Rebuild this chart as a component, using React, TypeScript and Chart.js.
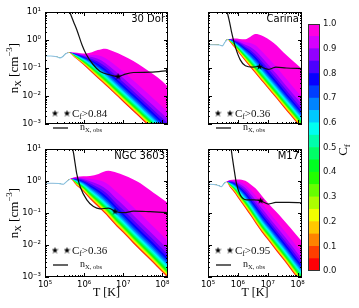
import { useEffect, useRef } from "react";
import { Chart, registerables } from "chart.js";

Chart.register(...registerables);

const FIG_W = 359;
const FIG_H = 308;

// ---------- colour bar: covering-factor contour levels ----------
const CF_LEVELS = [0, 0.05, 0.1, 0.15, 0.2, 0.25, 0.3, 0.35, 0.4, 0.45, 0.5, 0.55, 0.6, 0.65, 0.7, 0.75, 0.8, 0.85, 0.9, 0.95, 1.0];
const CF_COLORS = [
  "#ff0007", "#ff3e00", "#ff8300", "#ffc800", "#f1ff00", "#acff00", "#67ff00", "#22ff00", "#00ff22", "#00ff67",
  "#00ffab", "#00fff0", "#00c9ff", "#0084ff", "#003eff", "#0700ff", "#4c00ff", "#9200ff", "#d700ff", "#ff00e2",
];
const CB_TICKS = [0, 0.1, 0.2, 0.3, 0.4, 0.5, 0.6, 0.7, 0.8, 0.9, 1.0];
const CB_TICK_LABELS = ["0.0", "0.1", "0.2", "0.3", "0.4", "0.5", "0.6", "0.7", "0.8", "0.9", "1.0"];

// ---------- axes ----------
const X_MIN = 1e5;
const X_MAX = 1.4e8;
const Y_MIN = 1e-3;
const Y_MAX = 10;
const X_TICKS = [1e5, 1e6, 1e7, 1e8];
const X_TICK_LABELS = ["10⁵", "10⁶", "10⁷", "10⁸"];
const Y_TICKS = [1e-3, 1e-2, 1e-1, 1, 10];
const Y_TICK_LABELS = ["10⁻³", "10⁻²", "10⁻¹", "10⁰", "10¹"];
const MINOR_MULT = [1, 2, 3, 4, 5, 6, 7, 8, 9];

// shape exponent of the C_f contour family between its C_f=0 and C_f=1 edges
const P_SHAPE = 0.9;

// ---------- 30 Dor (all values log10 T[K], log10 n[cm^-3]) ----------
const DOR_LEAD_LOGT = [5.0, 5.15, 5.3, 5.38, 5.45, 5.52, 5.6];
const DOR_LEAD_LOGN = [-0.57, -0.57, -0.6, -0.64, -0.6, -0.5, -0.45];
const DOR_BAND_LOGT = [5.6, 5.75, 5.9, 6.05, 6.2, 6.35, 6.54, 6.74, 7.0, 7.26, 7.51, 7.77, 8.0, 8.16];
const DOR_LOWER_LOGN = [-0.45, -0.62, -0.79, -0.97, -1.17, -1.37, -1.61, -1.87, -2.21, -2.55, -2.88, -3.22, -3.52, -3.73];
const DOR_UPPER_LOGN = [-0.45, -0.45, -0.47, -0.48, -0.44, -0.36, -0.31, -0.4, -0.56, -0.75, -0.97, -1.22, -1.47, -1.69];
const DOR_OBS_LOGT = [5.56, 5.64, 5.73, 5.82, 5.95, 6.05, 6.23, 6.41, 6.67, 6.87, 7.05, 7.26, 7.69, 8.16];
const DOR_OBS_LOGN = [1.25, 0.97, 0.65, 0.34, -0.19, -0.5, -0.875, -1.125, -1.25, -1.31, -1.22, -1.16, -1.15, -1.09];
const DOR_STAR = [6.87, -1.29];

// ---------- Carina ----------
const CAR_LEAD_LOGT = [5.0, 5.2, 5.39, 5.48, 5.56, 5.65];
const CAR_LEAD_LOGN = [-0.17, -0.17, -0.18, -0.21, -0.09, 0.02];
const CAR_BAND_LOGT = [5.65, 5.74, 5.9, 6.05, 6.25, 6.42, 6.59, 6.7, 6.85, 7.1, 7.3, 7.53, 7.75, 7.96, 8.16];
const CAR_LOWER_LOGN = [0.02, -0.08, -0.29, -0.49, -0.76, -0.98, -1.2, -1.34, -1.53, -1.85, -2.1, -2.4, -2.68, -2.95, -3.2];
const CAR_UPPER_LOGN = [0.02, 0.04, 0.05, 0.04, 0.03, 0.12, 0.21, 0.2, 0.13, -0.03, -0.2, -0.45, -0.66, -0.86, -1.06];
const CAR_OBS_LOGT = [5.6, 5.65, 5.72, 5.78, 5.9, 6.08, 6.25, 6.5, 6.72, 6.87, 7.02, 7.15, 7.27, 7.62, 8.16];
const CAR_OBS_LOGN = [1.15, 0.96, 0.65, 0.33, -0.19, -0.71, -0.92, -0.97, -0.94, -1.0, -1.05, -1.01, -0.97, -1.0, -1.02];
const CAR_STAR = [6.72, -0.94];

// ---------- NGC 3603 ----------
const NGC_LEAD_LOGT = [5.0, 5.2, 5.35, 5.47, 5.55, 5.64];
const NGC_LEAD_LOGN = [-0.07, -0.07, -0.08, -0.1, -0.02, 0.06];
const NGC_BAND_LOGT = [5.64, 5.81, 5.98, 6.15, 6.37, 6.5, 6.62, 6.84, 7.0, 7.26, 7.44, 7.69, 7.86, 8.16];
const NGC_LOWER_LOGN = [0.06, -0.15, -0.33, -0.56, -0.82, -0.98, -1.13, -1.43, -1.62, -1.95, -2.17, -2.47, -2.68, -3.05];
const NGC_UPPER_LOGN = [0.06, 0.13, 0.15, 0.16, 0.22, 0.29, 0.32, 0.26, 0.19, 0.05, -0.07, -0.29, -0.44, -0.7];
const NGC_OBS_LOGT = [5.69, 5.73, 5.77, 5.81, 5.9, 6.07, 6.24, 6.41, 6.62, 6.84, 7.05, 7.26, 7.69, 8.16];
const NGC_OBS_LOGN = [1.1, 0.87, 0.55, 0.24, -0.18, -0.59, -0.8, -0.87, -0.85, -0.97, -0.99, -0.94, -0.96, -0.99];
const NGC_STAR = [6.79, -0.94];

// ---------- M17 ----------
const M17_LEAD_LOGT = [5.0, 5.2, 5.35, 5.44, 5.52, 5.61];
const M17_LEAD_LOGN = [-0.1, -0.11, -0.14, -0.18, -0.1, -0.03];
const M17_BAND_LOGT = [5.61, 5.74, 5.9, 6.0, 6.25, 6.42, 6.59, 6.8, 7.02, 7.3, 7.53, 7.75, 7.96, 8.16];
const M17_LOWER_LOGN = [-0.03, -0.2, -0.38, -0.52, -0.85, -1.08, -1.32, -1.6, -1.86, -2.2, -2.47, -2.74, -3.0, -3.24];
const M17_UPPER_LOGN = [-0.03, 0.03, 0.05, 0.05, 0.01, -0.1, -0.23, -0.46, -0.7, -0.98, -1.22, -1.45, -1.69, -1.9];
const M17_OBS_LOGT = [5.74, 5.78, 5.82, 5.86, 5.95, 6.08, 6.29, 6.54, 6.76, 7.02, 7.27, 7.7, 8.16];
const M17_OBS_LOGN = [1.2, 0.97, 0.7, 0.45, -0.07, -0.44, -0.59, -0.59, -0.62, -0.72, -0.67, -0.67, -0.68];
const M17_STAR = [6.76, -0.6];

const REGION_NAMES = ["30 Dor", "Carina", "NGC 3603", "M17"];
const CF_THRESHOLDS = ["0.84", "0.36", "0.36", "0.95"];

type Panel = {
  name: string;
  cfMin: string;
  leadT: number[];
  leadN: number[];
  bandT: number[];
  lower: number[];
  upper: number[];
  obsT: number[];
  obsN: number[];
  star: number[];
  box: { left: number; top: number; right: number; bottom: number };
  showX: boolean;
  showY: boolean;
};

const PANELS: Panel[] = [
  {
    name: REGION_NAMES[0], cfMin: CF_THRESHOLDS[0],
    leadT: DOR_LEAD_LOGT, leadN: DOR_LEAD_LOGN, bandT: DOR_BAND_LOGT, lower: DOR_LOWER_LOGN, upper: DOR_UPPER_LOGN,
    obsT: DOR_OBS_LOGT, obsN: DOR_OBS_LOGN, star: DOR_STAR,
    box: { left: 45, top: 12, right: 168, bottom: 140 }, showX: false, showY: true,
  },
  {
    name: REGION_NAMES[1], cfMin: CF_THRESHOLDS[1],
    leadT: CAR_LEAD_LOGT, leadN: CAR_LEAD_LOGN, bandT: CAR_BAND_LOGT, lower: CAR_LOWER_LOGN, upper: CAR_UPPER_LOGN,
    obsT: CAR_OBS_LOGT, obsN: CAR_OBS_LOGN, star: CAR_STAR,
    box: { left: 178, top: 12, right: 302, bottom: 140 }, showX: false, showY: false,
  },
  {
    name: REGION_NAMES[2], cfMin: CF_THRESHOLDS[2],
    leadT: NGC_LEAD_LOGT, leadN: NGC_LEAD_LOGN, bandT: NGC_BAND_LOGT, lower: NGC_LOWER_LOGN, upper: NGC_UPPER_LOGN,
    obsT: NGC_OBS_LOGT, obsN: NGC_OBS_LOGN, star: NGC_STAR,
    box: { left: 45, top: 149, right: 168, bottom: 277 }, showX: true, showY: true,
  },
  {
    name: REGION_NAMES[3], cfMin: CF_THRESHOLDS[3],
    leadT: M17_LEAD_LOGT, leadN: M17_LEAD_LOGN, bandT: M17_BAND_LOGT, lower: M17_LOWER_LOGN, upper: M17_UPPER_LOGN,
    obsT: M17_OBS_LOGT, obsN: M17_OBS_LOGN, star: M17_STAR,
    box: { left: 178, top: 149, right: 302, bottom: 277 }, showX: true, showY: false,
  },
];

const CB_BOX = { left: 308, top: 24, right: 320, bottom: 271 };

const SERIF = '"Liberation Serif", "Times New Roman", serif';
const SANS = '"DejaVu Sans", sans-serif';
const X_AXIS_H = 16;
const Y_AXIS_W = 30;

type Part = { t: string; size: number; dy?: number };

function richWidth(ctx: CanvasRenderingContext2D, parts: Part[], family: string) {
  let w = 0;
  for (const p of parts) {
    ctx.font = `${p.size}px ${family}`;
    w += ctx.measureText(p.t).width;
  }
  return w;
}

function drawRich(ctx: CanvasRenderingContext2D, parts: Part[], x: number, y: number, family: string) {
  let cx = x;
  for (const p of parts) {
    ctx.font = `${p.size}px ${family}`;
    ctx.fillText(p.t, cx, y + (p.dy || 0));
    cx += ctx.measureText(p.t).width;
  }
}

function makeStar(size: number) {
  const c = document.createElement("canvas");
  c.width = size;
  c.height = size;
  const g = c.getContext("2d")!;
  g.fillStyle = "#000";
  g.beginPath();
  const cx = size / 2;
  const cy = size / 2 + 0.4;
  const R = size / 2;
  const r = R * 0.42;
  for (let i = 0; i < 10; i++) {
    const ang = -Math.PI / 2 + (i * Math.PI) / 5;
    const rr = i % 2 ? r : R;
    const x = cx + rr * Math.cos(ang);
    const y = cy + rr * Math.sin(ang);
    if (i) g.lineTo(x, y);
    else g.moveTo(x, y);
  }
  g.closePath();
  g.fill();
  return c;
}

function pts(ts: number[], ns: number[]) {
  return ts.map((t, i) => ({ x: Math.pow(10, t), y: Math.pow(10, ns[i]) }));
}

// contour of level cf between the C_f=0 edge (lo) and the C_f=1 edge (up)
function levelLogN(lo: number, up: number, cf: number) {
  return lo - P_SHAPE * Math.log10(1 - cf * (1 - Math.pow(10, (lo - up) / P_SHAPE)));
}

function panelConfig(p: Panel, star: HTMLCanvasElement): any {
  // the contour family coincides with the lead-in curve below the divergence temperature
  const bandT = p.leadT.slice(0, -1).concat(p.bandT);
  const lower = p.leadN.slice(0, -1).concat(p.lower);
  const upper = p.leadN.slice(0, -1).concat(p.upper);

  const datasets: any[] = [];
  datasets.push({
    data: [{ x: Math.pow(10, p.star[0]), y: Math.pow(10, p.star[1]) }],
    showLine: false, pointStyle: star, pointRadius: 4, fill: false,
  });
  datasets.push({
    data: pts(p.obsT, p.obsN), borderColor: "#111", borderWidth: 1.2, pointRadius: 0, fill: false,
    cubicInterpolationMode: "monotone",
  });
  datasets.push({
    data: pts(p.leadT, p.leadN), borderColor: "#86c5e6", borderWidth: 1.1, pointRadius: 0, fill: false,
    cubicInterpolationMode: "monotone",
  });
  CF_LEVELS.forEach((cf, k) => {
    datasets.push({
      data: bandT.map((t, i) => ({ x: Math.pow(10, t), y: Math.pow(10, levelLogN(lower[i], upper[i], cf)) })),
      borderWidth: 0, borderColor: "rgba(0,0,0,0)", pointRadius: 0, fill: "start",
      backgroundColor: k === 0 ? "#ffffff" : CF_COLORS[k - 1],
      cubicInterpolationMode: "monotone",
    });
  });

  const pad = {
    left: p.showY ? p.box.left - Y_AXIS_W : p.box.left,
    right: FIG_W - p.box.right,
    top: p.box.top,
    bottom: p.showX ? FIG_H - p.box.bottom - X_AXIS_H : FIG_H - p.box.bottom,
  };

  const decor = {
    id: "decor",
    afterDraw(chart: any) {
      const { ctx, chartArea: a, scales } = chart;
      const xs = scales.x;
      const ys = scales.y;
      ctx.save();
      ctx.strokeStyle = "#000";
      ctx.lineWidth = 1;
      ctx.beginPath();
      for (const d of X_TICKS) {
        for (const m of MINOR_MULT) {
          const v = d * m;
          if (v > X_MAX) continue;
          const px = Math.round(xs.getPixelForValue(v)) + 0.5;
          const len = m === 1 ? 4 : 2;
          ctx.moveTo(px, a.bottom);
          ctx.lineTo(px, a.bottom - len);
          ctx.moveTo(px, a.top);
          ctx.lineTo(px, a.top + len);
        }
      }
      for (const d of Y_TICKS) {
        for (const m of MINOR_MULT) {
          const v = d * m;
          if (v > Y_MAX) continue;
          const py = Math.round(ys.getPixelForValue(v)) + 0.5;
          const len = m === 1 ? 4 : 2;
          ctx.moveTo(a.left, py);
          ctx.lineTo(a.left + len, py);
          ctx.moveTo(a.right, py);
          ctx.lineTo(a.right - len, py);
        }
      }
      ctx.stroke();
      ctx.strokeRect(a.left + 0.5, a.top + 0.5, a.width - 1, a.height - 1);

      // region name
      ctx.fillStyle = "#000";
      ctx.font = `10px ${SANS}`;
      ctx.textAlign = "right";
      ctx.textBaseline = "top";
      ctx.fillText(p.name, a.right - 3, a.top + 2);

      // legend
      ctx.textAlign = "left";
      ctx.textBaseline = "alphabetic";
      ctx.drawImage(star, a.left + 10 - star.width / 2, a.top + 101 - star.height / 2);
      ctx.drawImage(star, a.left + 22 - star.width / 2, a.top + 101 - star.height / 2);
      ctx.fillStyle = "#111";
      drawRich(ctx, [
        { t: "C", size: 11 },
        { t: "f", size: 7.5, dy: 2 },
        { t: ">" + p.cfMin, size: 11 },
      ], a.left + 27, a.top + 105, SERIF);
      ctx.beginPath();
      ctx.strokeStyle = "#111";
      ctx.lineWidth = 1.3;
      ctx.moveTo(a.left + 8, a.top + 116);
      ctx.lineTo(a.left + 23, a.top + 116);
      ctx.stroke();
      drawRich(ctx, [
        { t: "n", size: 10 },
        { t: "X, obs", size: 6.5, dy: 2 },
      ], a.left + 35, a.top + 118, SERIF);

      // axis titles
      ctx.fillStyle = "#000";
      if (p.showY) {
        const parts: Part[] = [
          { t: "n", size: 13 },
          { t: "X", size: 9, dy: 3 },
          { t: " [cm", size: 13 },
          { t: "−3", size: 9, dy: -6 },
          { t: "]", size: 13 },
        ];
        const w = richWidth(ctx, parts, SERIF);
        ctx.save();
        ctx.translate(17.5, (a.top + a.bottom) / 2);
        ctx.rotate(-Math.PI / 2);
        drawRich(ctx, parts, -w / 2, 0, SERIF);
        ctx.restore();
      }
      if (p.showX) {
        const parts: Part[] = [{ t: "T [K]", size: 12 }];
        const w = richWidth(ctx, parts, SERIF);
        drawRich(ctx, parts, (a.left + a.right) / 2 - w / 2, 296, SERIF);
      }
      ctx.restore();
    },
  };

  return {
    type: "line",
    data: { datasets },
    options: {
      responsive: false,
      maintainAspectRatio: false,
      animation: false,
      events: [],
      layout: { padding: pad },
      plugins: { legend: { display: false }, tooltip: { enabled: false } },
      scales: {
        x: {
          type: "logarithmic",
          min: X_MIN,
          max: X_MAX,
          display: p.showX,
          afterBuildTicks: (s: any) => {
            s.ticks = X_TICKS.map((v) => ({ value: v }));
          },
          afterFit: (s: any) => {
            s.height = X_AXIS_H;
          },
          grid: { display: false, drawTicks: false },
          border: { display: false },
          ticks: {
            autoSkip: false,
            maxRotation: 0,
            padding: 3,
            color: "#000",
            font: { family: SANS, size: 8.5 },
            callback: (_v: any, i: number) => X_TICK_LABELS[i],
          },
        },
        y: {
          type: "logarithmic",
          min: Y_MIN,
          max: Y_MAX,
          display: p.showY,
          afterBuildTicks: (s: any) => {
            s.ticks = Y_TICKS.map((v) => ({ value: v }));
          },
          afterFit: (s: any) => {
            s.width = Y_AXIS_W;
          },
          grid: { display: false, drawTicks: false },
          border: { display: false },
          ticks: {
            autoSkip: false,
            padding: 4,
            color: "#000",
            font: { family: SANS, size: 8.5 },
            callback: (_v: any, i: number) => Y_TICK_LABELS[i],
          },
        },
      },
    },
    plugins: [decor],
  };
}

function colorbarConfig(): any {
  const datasets = CF_COLORS.map((c, i) => ({
    data: [CF_LEVELS[i + 1] - CF_LEVELS[i]],
    backgroundColor: c,
    borderWidth: 0,
    barPercentage: 1,
    categoryPercentage: 1,
    stack: "cb",
  }));
  const outline = {
    id: "cbOutline",
    afterDraw(chart: any) {
      const { ctx, chartArea: a } = chart;
      ctx.save();
      ctx.strokeStyle = "#333";
      ctx.lineWidth = 1;
      ctx.strokeRect(a.left + 0.5, a.top + 0.5, a.width - 1, a.height - 1);
      ctx.fillStyle = "#000";
      const parts: Part[] = [
        { t: "C", size: 13 },
        { t: "f", size: 9, dy: 3 },
      ];
      const w = richWidth(ctx, parts, SERIF);
      ctx.translate(347, 150);
      ctx.rotate(-Math.PI / 2);
      ctx.textBaseline = "alphabetic";
      drawRich(ctx, parts, -w / 2, 0, SERIF);
      ctx.restore();
    },
  };
  return {
    type: "bar",
    data: { labels: ["cf"], datasets },
    options: {
      responsive: false,
      maintainAspectRatio: false,
      animation: false,
      events: [],
      layout: {
        padding: { left: CB_BOX.left, top: CB_BOX.top, bottom: FIG_H - CB_BOX.bottom, right: 0 },
      },
      plugins: { legend: { display: false }, tooltip: { enabled: false } },
      scales: {
        x: { display: false, stacked: true },
        y: {
          stacked: true,
          min: 0,
          max: 1,
          position: "right",
          afterBuildTicks: (s: any) => {
            s.ticks = CB_TICKS.map((v) => ({ value: v }));
          },
          afterFit: (s: any) => {
            s.width = FIG_W - CB_BOX.right;
          },
          grid: { display: false, drawTicks: false },
          border: { display: false },
          ticks: {
            padding: 3,
            color: "#111",
            font: { family: SANS, size: 8.5 },
            callback: (_v: any, i: number) => CB_TICK_LABELS[i],
          },
        },
      },
    },
    plugins: [outline],
  };
}

export default function App() {
  const r0 = useRef<HTMLCanvasElement>(null);
  const r1 = useRef<HTMLCanvasElement>(null);
  const r2 = useRef<HTMLCanvasElement>(null);
  const r3 = useRef<HTMLCanvasElement>(null);
  const rc = useRef<HTMLCanvasElement>(null);

  useEffect(() => {
    const star = makeStar(7);
    const charts: Chart[] = [];
    [r0, r1, r2, r3].forEach((r, i) => {
      if (r.current) charts.push(new Chart(r.current, panelConfig(PANELS[i], star)));
    });
    if (rc.current) charts.push(new Chart(rc.current, colorbarConfig()));
    return () => charts.forEach((c) => c.destroy());
  }, []);

  const cs: any = { position: "absolute", left: 0, top: 0, width: FIG_W, height: FIG_H, display: "block" };
  return (
    <div style={{ position: "fixed", left: 0, top: 0, width: FIG_W, height: FIG_H, background: "#fff", overflow: "hidden" }}>
      <canvas ref={r0} width={FIG_W} height={FIG_H} style={cs} />
      <canvas ref={r1} width={FIG_W} height={FIG_H} style={cs} />
      <canvas ref={r2} width={FIG_W} height={FIG_H} style={cs} />
      <canvas ref={r3} width={FIG_W} height={FIG_H} style={cs} />
      <canvas ref={rc} width={FIG_W} height={FIG_H} style={cs} />
    </div>
  );
}
